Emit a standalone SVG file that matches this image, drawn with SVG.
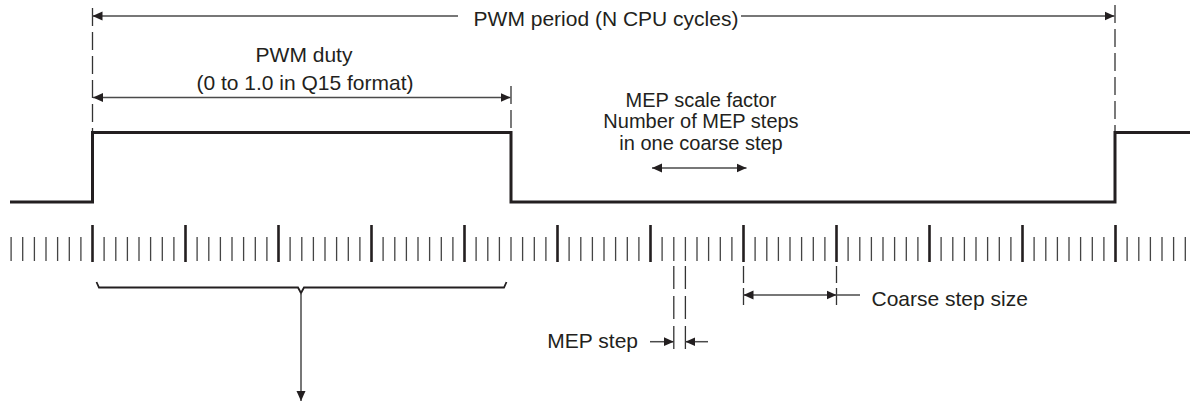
<svg xmlns="http://www.w3.org/2000/svg" width="1190" height="403" viewBox="0 0 1190 403">
  <defs>
    <style>
      .txt { font-family: "Liberation Sans", Arial, sans-serif; font-size: 21px; fill: #231f20; }
      .txt2 { font-family: "Liberation Sans", Arial, sans-serif; font-size: 20px; fill: #231f20; }
      .sig { fill: none; stroke: #231f20; stroke-width: 3; stroke-linejoin: miter; }
      .dim { fill: none; stroke: #4a4a4a; stroke-width: 1.5; }
      .dash { fill: none; stroke: #333; stroke-width: 1.3; stroke-dasharray: 18 6; }
      .dash2 { fill: none; stroke: #333; stroke-width: 1.3; stroke-dasharray: 23 7; }
      .small { stroke: #444; stroke-width: 1.3; }
      .big { stroke: #231f20; stroke-width: 2.6; }
    </style>
    <marker id="ah" viewBox="0 0 10 10" markerWidth="10" markerHeight="10" refX="10" refY="5" orient="auto-start-reverse" markerUnits="userSpaceOnUse">
      <path d="M0,0.5 L10,5 L0,9.5 z" fill="#231f20"/>
    </marker>
  </defs>

  <!-- Signal waveform -->
  <g id="waveform">
    <path class="sig" d="M10,202 H92.5 V132.5 H511 V202 H1115 V132.5 H1190"/>
  </g>

  <!-- Tick scale -->
  <g id="scale">
    <g class="small">
      <path d="M11.1,237V261 M22.7,237V261 M34.4,237V261 M46,237V261 M57.6,237V261 M69.3,237V261 M80.9,237V261"/>
      <path d="M104.1,237V261 M115.8,237V261 M127.4,237V261 M139,237V261 M150.6,237V261 M162.3,237V261 M173.9,237V261"/>
      <path d="M197.1,237V261 M208.8,237V261 M220.4,237V261 M232,237V261 M243.6,237V261 M255.3,237V261 M266.9,237V261"/>
      <path d="M290.1,237V261 M301.8,237V261 M313.4,237V261 M325,237V261 M336.6,237V261 M348.3,237V261 M359.9,237V261"/>
      <path d="M383.1,237V261 M394.8,237V261 M406.4,237V261 M418,237V261 M429.6,237V261 M441.3,237V261 M452.9,237V261"/>
      <path d="M476.1,237V261 M487.8,237V261 M499.4,237V261 M511,237V261 M522.6,237V261 M534.3,237V261 M545.9,237V261"/>
      <path d="M569.1,237V261 M580.8,237V261 M592.4,237V261 M604,237V261 M615.6,237V261 M627.3,237V261 M638.9,237V261"/>
      <path d="M662.1,237V261 M673.8,237V261 M685.4,237V261 M697,237V261 M708.6,237V261 M720.3,237V261 M731.9,237V261"/>
      <path d="M755.1,237V261 M766.8,237V261 M778.4,237V261 M790,237V261 M801.6,237V261 M813.3,237V261 M824.9,237V261"/>
      <path d="M848.1,237V261 M859.8,237V261 M871.4,237V261 M883,237V261 M894.6,237V261 M906.3,237V261 M917.9,237V261"/>
      <path d="M941.1,237V261 M952.8,237V261 M964.4,237V261 M976,237V261 M987.6,237V261 M999.3,237V261 M1010.9,237V261"/>
      <path d="M1034.1,237V261 M1045.8,237V261 M1057.4,237V261 M1069,237V261 M1080.6,237V261 M1092.3,237V261 M1103.9,237V261"/>
      <path d="M1127.1,237V261 M1138.8,237V261 M1150.4,237V261 M1162,237V261 M1173.6,237V261 M1185.3,237V261"/>
    </g>
    <g class="big">
      <path d="M92.5,225V262 M185.5,225V262 M278.5,225V262 M371.5,225V262 M464.5,225V262 M557.5,225V262 M650.5,225V262 M743.5,225V262 M836.5,225V262 M929.5,225V262 M1022.5,225V262 M1115.5,225V262"/>
    </g>
  </g>

  <!-- Labels -->
  <g id="label-period">
    <text class="txt" x="606" y="25.5" text-anchor="middle">PWM period (N CPU cycles)</text>
  </g>
  <g id="label-duty">
    <text class="txt" x="304" y="62" text-anchor="middle">PWM duty</text>
    <text class="txt" x="305" y="90" text-anchor="middle">(0 to 1.0 in Q15 format)</text>
  </g>
  <g id="label-mep-scale">
    <text class="txt2" x="701" y="107" text-anchor="middle">MEP scale factor</text>
    <text class="txt2" x="701" y="128.3" text-anchor="middle">Number of MEP steps</text>
    <text class="txt2" x="701" y="149.6" text-anchor="middle">in one coarse step</text>
  </g>
  <g id="label-mep-step">
    <text class="txt" x="638" y="348" text-anchor="end">MEP step</text>
  </g>
  <g id="label-coarse">
    <text class="txt" x="871.5" y="306">Coarse step size</text>
  </g>

  <!-- Connectors -->
  <g id="connectors">
    <!-- dashed verticals -->
    <path class="dash" d="M92.5,8V131"/>
    <path class="dash" d="M1115,5V131"/>
    <path class="dash" d="M511,86V131"/>
    <!-- period arrow -->
    <path class="dim" d="M458,16H92.5" marker-end="url(#ah)"/>
    <path class="dim" d="M741,16H1114.5" marker-end="url(#ah)"/>
    <!-- duty arrow -->
    <path class="dim" d="M93,97.5H510.5" marker-start="url(#ah)" marker-end="url(#ah)"/>
    <!-- MEP scale arrow -->
    <path class="dim" d="M652,168H746.5" marker-start="url(#ah)" marker-end="url(#ah)"/>
    <!-- bracket -->
    <path fill="none" stroke="#231f20" stroke-width="1.8" d="M96.5,282 L99,287.5 H298 L301,293 L304,287.5 H504 L506.5,282"/>
    <path class="dim" d="M301,293V401" marker-end="url(#ah)"/>
    <!-- MEP step -->
    <path class="dash2" d="M673.8,266V351"/>
    <path class="dash2" d="M685.4,266V351"/>
    <path class="dim" d="M650,341.7H673.8" marker-end="url(#ah)"/>
    <path class="dim" d="M708,341.7H685.4" marker-end="url(#ah)"/>
    <!-- Coarse step -->
    <path fill="none" stroke="#333" stroke-width="1.3" stroke-dasharray="17 5" d="M743.5,266V307"/>
    <path fill="none" stroke="#333" stroke-width="1.3" stroke-dasharray="17 5" d="M836.5,266V307"/>
    <path class="dim" d="M743.5,295H836.5" marker-start="url(#ah)" marker-end="url(#ah)"/>
    <path class="dim" d="M836.5,295H860"/>
  </g>
</svg>
